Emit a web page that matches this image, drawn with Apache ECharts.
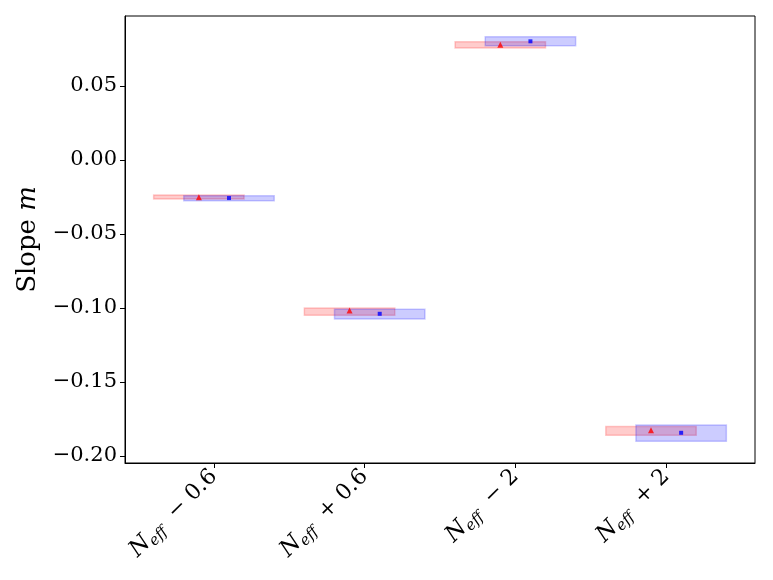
<!DOCTYPE html>
<html>
<head>
<meta charset="utf-8">
<script src="https://cdn.jsdelivr.net/npm/echarts@6/dist/echarts.min.js"></script>
<style>html,body{margin:0;padding:0;background:#fff}#c{width:773px;height:580px}</style>
</head>
<body>
<div id="c"></div>
<script>
// categories: N_eff offsets (subscript "eff" added in label formatting)
const categories = ['− 0.6', '+ 0.6', '− 2', '+ 2'];
const yTicks = [-0.20, -0.15, -0.10, -0.05, 0.00, 0.05];

// red series (triangles) : centre, low, high
const redCenter = [-0.0252, -0.1016, 0.0779, -0.1826];
const redLow    = [-0.0264, -0.1049, 0.0757, -0.1860];
const redHigh   = [-0.0236, -0.1000, 0.0799, -0.1800];

// blue series (squares) : centre, low, high
const blueCenter = [-0.0257, -0.1039, 0.0802, -0.1843];
const blueLow    = [-0.0275, -0.1074, 0.0772, -0.1900];
const blueHigh   = [-0.0241, -0.1009, 0.0833, -0.1790];

const FONT = 'DejaVu Serif';
const RED_OFF = -0.1, BLUE_OFF = 0.1, HALF_W = 0.3;

function boxSeries(low, high, off, fill, stroke) {
  return {
    type: 'custom',
    data: low.map((l, i) => [i + off, l, high[i]]),
    encode: { x: 0, y: [1, 2] },
    renderItem: function (params, api) {
      const x = api.value(0);
      const p1 = api.coord([x - HALF_W, api.value(2)]);
      const p2 = api.coord([x + HALF_W, api.value(1)]);
      return {
        type: 'rect',
        shape: { x: p1[0], y: p1[1], width: p2[0] - p1[0], height: p2[1] - p1[1] },
        style: { fill: fill, stroke: stroke, lineWidth: 1.5 }
      };
    },
    z: 2,
    silent: true
  };
}

const chart = echarts.init(document.getElementById('c'), null, { renderer: 'canvas' });
chart.setOption({
  animation: false,
  backgroundColor: '#fff',
  grid: { left: 125, right: 18, top: 16, bottom: 117, show: true, borderColor: '#000', borderWidth: 1, backgroundColor: 'transparent' },
  xAxis: {
    type: 'value',
    min: -0.59, max: 3.59,
    splitLine: { show: false },
    axisLine: { show: true, onZero: false, lineStyle: { color: '#000', width: 1 } },
    axisTick: { show: true, inside: false, length: 5, lineStyle: { color: '#000' }, customValues: [0, 1, 2, 3] },
    axisLabel: {
      customValues: [0, 1, 2, 3],
      rotate: 45,
      margin: 10,
      formatter: function (v) {
        return '{n|N}{s|eff}{t|  ' + categories[Math.round(v)] + '}';
      },
      rich: {
        n: { fontFamily: FONT, fontStyle: 'italic', fontSize: 23, color: '#000' },
        s: { fontFamily: FONT, fontStyle: 'italic', fontSize: 15, color: '#000', padding: [12, 0, 0, 0] },
        t: { fontFamily: FONT, fontSize: 22, color: '#000' }
      }
    }
  },
  yAxis: {
    type: 'value',
    min: -0.2047, max: 0.0973,
    splitLine: { show: false },
    axisLine: { show: true, onZero: false, lineStyle: { color: '#000', width: 1 } },
    axisTick: { show: true, inside: false, length: 5, lineStyle: { color: '#000' }, customValues: yTicks },
    axisLabel: {
      customValues: yTicks,
      margin: 8,
      fontFamily: FONT, fontSize: 21, color: '#000',
      formatter: function (v) { return v.toFixed(2).replace('-', '−'); }
    },
    name: 'Slope {m|m}',
    nameLocation: 'middle',
    nameGap: 76,
    nameRotate: 90,
    nameTextStyle: {
      fontFamily: FONT, fontSize: 26, color: '#000',
      rich: { m: { fontFamily: FONT, fontStyle: 'italic', fontSize: 26, color: '#000' } }
    }
  },
  series: [
    boxSeries(redLow, redHigh, RED_OFF, 'rgba(255,0,0,0.2)', 'rgba(255,0,0,0.2)'),
    boxSeries(blueLow, blueHigh, BLUE_OFF, 'rgba(0,0,255,0.2)', 'rgba(0,0,255,0.2)'),
    {
      type: 'scatter',
      data: redCenter.map((v, i) => [i + RED_OFF, v]),
      symbol: 'triangle', symbolSize: 6,
      itemStyle: { color: '#ff0000' }, z: 3, silent: true
    },
    {
      type: 'scatter',
      data: blueCenter.map((v, i) => [i + BLUE_OFF, v]),
      symbol: 'rect', symbolSize: 4,
      itemStyle: { color: '#0000ff' }, z: 3, silent: true
    }
  ]
});
</script>
</body>
</html>
